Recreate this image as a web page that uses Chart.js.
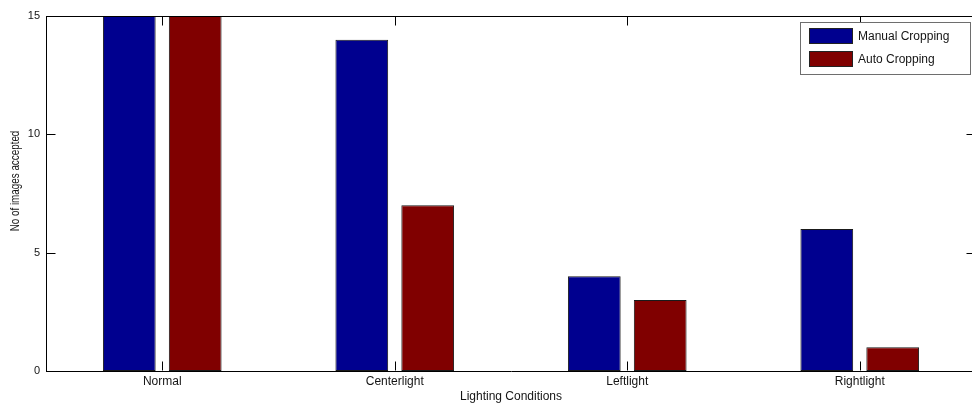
<!DOCTYPE html>
<html>
<head>
<meta charset="utf-8">
<script src="https://cdn.jsdelivr.net/npm/chart.js@4"></script>
<style>
  html, body { margin: 0; padding: 0; background: #fff; overflow: hidden; }
  #wrap { width: 972px; height: 406px; overflow: hidden; }
  canvas { display: block; }
</style>
</head>
<body>
<div id="wrap"><canvas id="c" width="980" height="406"></canvas></div>
<script>
// Lighting conditions and accepted image counts for each cropping method
const categories = ['Normal', 'Centerlight', 'Leftlight', 'Rightlight'];
const manualCropping = [15, 14, 4, 6];
const autoCropping = [15, 7, 3, 1];
const yTicks = [0, 5, 10, 15];
const yTitle = 'No of images accepted';
const xTitle = 'Lighting Conditions';

const FONT = '"Liberation Sans", Arial, sans-serif';
const TEXT = '#141414';
const TICK_LEN = 9;

// Box around the axes with inward tick marks on all four sides
const boxTicks = {
  id: 'boxTicks',
  afterDraw(chart) {
    const { ctx, chartArea: a, scales: { x, y } } = chart;
    ctx.save();
    ctx.strokeStyle = '#000';
    ctx.lineWidth = 1;
    ctx.beginPath();
    const t = Math.round(a.top) + 0.5, r = Math.round(a.right) - 0.5;
    const b = Math.round(a.bottom) - 0.5, l = Math.round(a.left) + 0.5;
    ctx.moveTo(l, t); ctx.lineTo(r, t);
    ctx.moveTo(r, t); ctx.lineTo(r, b);
    yTicks.forEach(v => {
      const py = Math.round(y.getPixelForValue(v)) + 0.5;
      if (v !== yTicks[0] && v !== yTicks[yTicks.length - 1]) {
        ctx.moveTo(l, py); ctx.lineTo(l + TICK_LEN, py);
        ctx.moveTo(r, py); ctx.lineTo(r - TICK_LEN, py);
      }
    });
    categories.forEach((c, i) => {
      const px = Math.round(x.getPixelForTick(i)) + 0.5;
      ctx.moveTo(px, b); ctx.lineTo(px, b - TICK_LEN);
      ctx.moveTo(px, t); ctx.lineTo(px, t + TICK_LEN);
    });
    ctx.stroke();

    // vertical axis label, slightly condensed along its length
    ctx.translate(16, 181);
    ctx.rotate(-Math.PI / 2);
    ctx.scale(0.82, 1);
    ctx.font = '12px ' + FONT;
    ctx.fillStyle = TEXT;
    ctx.textAlign = 'center';
    ctx.textBaseline = 'middle';
    ctx.fillText(yTitle, 0, 0);
    ctx.restore();
  }
};

// Boxed legend in the upper right corner of the axes
const boxLegend = {
  id: 'boxLegend',
  afterDraw(chart) {
    const { ctx } = chart;
    const bx = 800.5, by = 22.5, bw = 170, bh = 52;
    ctx.save();
    ctx.fillStyle = '#fff';
    ctx.fillRect(bx, by, bw, bh);
    ctx.strokeStyle = '#6e6e6e';
    ctx.lineWidth = 1;
    ctx.strokeRect(bx, by, bw, bh);
    ctx.font = '12px ' + FONT;
    ctx.textBaseline = 'middle';
    ctx.textAlign = 'left';
    chart.data.datasets.forEach((ds, i) => {
      const sy = 28 + i * 23;
      ctx.fillStyle = ds.backgroundColor;
      ctx.fillRect(809, sy, 44, 16);
      ctx.strokeStyle = '#222';
      ctx.strokeRect(809.5, sy + 0.5, 43, 15);
      ctx.fillStyle = TEXT;
      ctx.fillText(ds.label, 858, sy + 8.5);
    });
    ctx.restore();
  }
};

new Chart(document.getElementById('c'), {
  type: 'bar',
  data: {
    labels: categories,
    datasets: [
      { label: 'Manual Cropping', data: manualCropping, backgroundColor: '#00008f',
        borderColor: '#1a1a1a', borderWidth: 1, borderSkipped: false },
      { label: 'Auto Cropping', data: autoCropping, backgroundColor: '#800000',
        borderColor: '#1a1a1a', borderWidth: 1, borderSkipped: false }
    ]
  },
  options: {
    responsive: false,
    animation: false,
    devicePixelRatio: 1,
    layout: { padding: { top: 16, right: 4, left: 0, bottom: 0 } },
    datasets: { bar: { categoryPercentage: 0.567, barPercentage: 0.8 } },
    plugins: { legend: { display: false }, tooltip: { enabled: false } },
    scales: {
      x: {
        grid: { display: false, drawTicks: false },
        border: { display: true, color: '#000', width: 1 },
        ticks: { color: TEXT, font: { family: FONT, size: 12 }, padding: 3, maxRotation: 0 },
        title: { display: true, text: xTitle, color: TEXT,
                 font: { family: FONT, size: 12 }, padding: { top: 0, bottom: 2 } },
        afterFit(s) { s.height = 35; }
      },
      y: {
        min: 0, max: 15,
        afterBuildTicks(s) { s.ticks = yTicks.map(v => ({ value: v })); },
        grid: { display: false, drawTicks: false },
        border: { display: true, color: '#000', width: 1 },
        ticks: { color: TEXT, font: { family: FONT, size: 11 }, padding: 6 },
        title: { display: false },
        afterFit(s) { s.width = 46; }
      }
    }
  },
  plugins: [boxTicks, boxLegend]
});
</script>
</body>
</html>
